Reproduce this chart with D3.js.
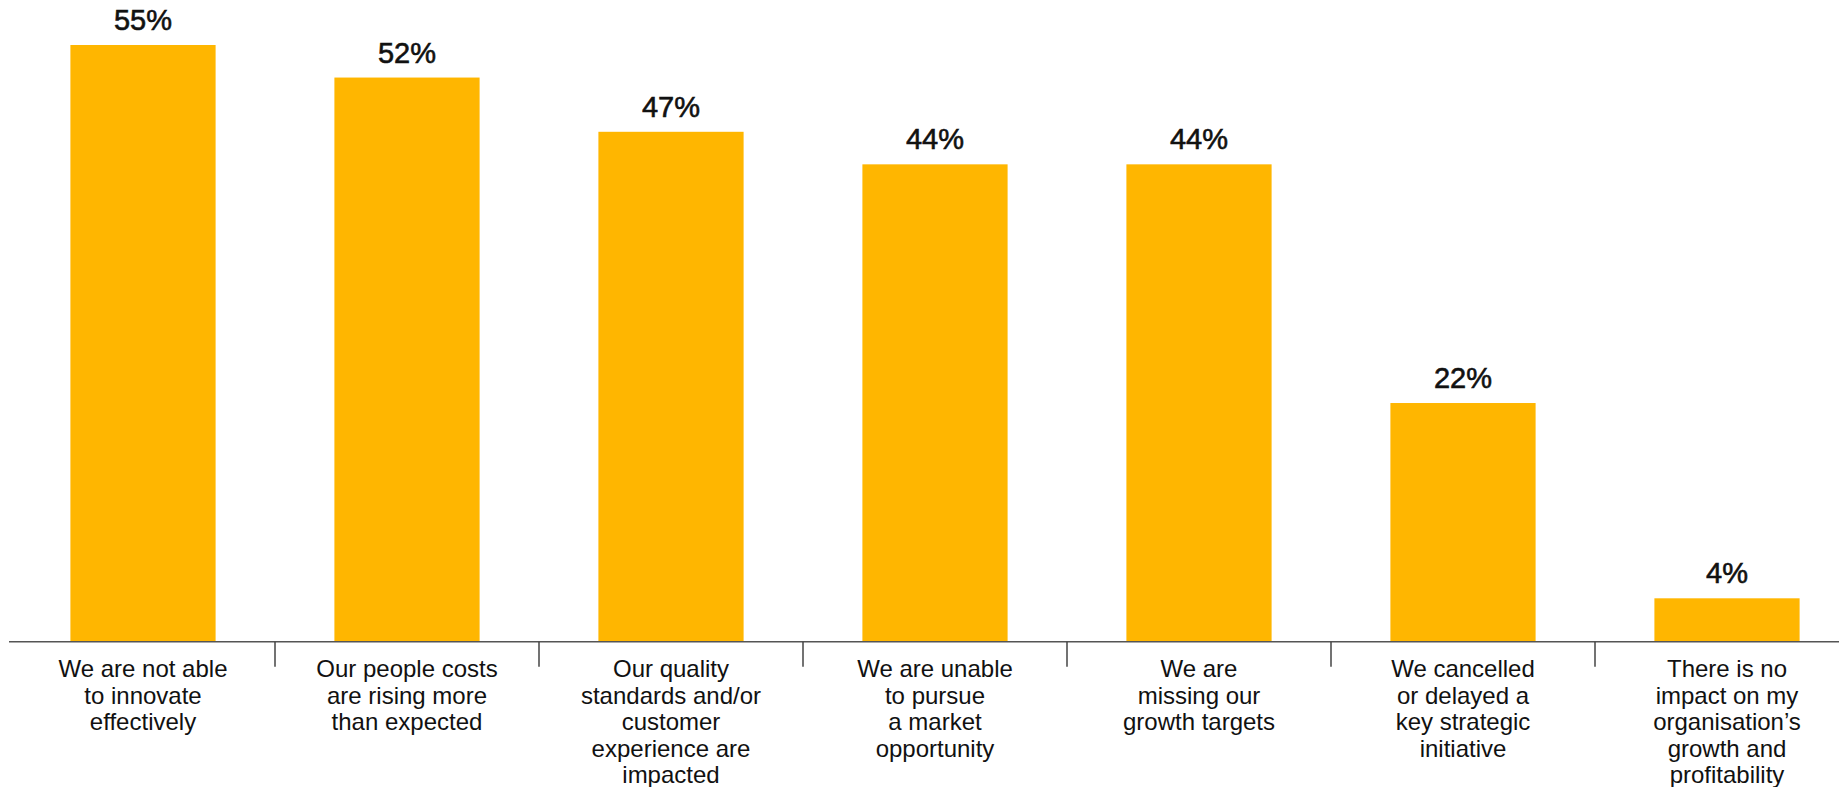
<!DOCTYPE html>
<html lang="en">
<head>
    <meta charset="UTF-8">
    <title>Impact on growth and profitability</title>
    <script src="https://d3js.org/d3.v7.min.js"></script>
    <style>
        html, body {
            margin: 0;
            padding: 0;
            background: #ffffff;
            overflow: hidden;
        }
        svg {
            display: block;
            font-family: "Helvetica Neue", Helvetica, "Liberation Sans", Arial, sans-serif;
        }
        .value-label {
            font-size: 29px;
            fill: #111;
            stroke: #111;
            stroke-width: 0.6px;
        }
        .cat-label {
            font-size: 24px;
            fill: #111;
        }
    </style>
</head>
<body>
    <svg id="chart" width="1839" height="787"></svg>

    <script>
        // Data
        const categories = [
            "We are not able to innovate effectively",
            "Our people costs are rising more than expected",
            "Our quality standards and/or customer experience are impacted",
            "We are unable to pursue a market opportunity",
            "We are missing our growth targets",
            "We cancelled or delayed a key strategic initiative",
            "There is no impact on my organisation’s growth and profitability"
        ];
        const values = [55, 52, 47, 44, 44, 22, 4];
        // line breaks used in the axis labels
        const labelLines = [
            ["We are not able", "to innovate", "effectively"],
            ["Our people costs", "are rising more", "than expected"],
            ["Our quality", "standards and/or", "customer", "experience are", "impacted"],
            ["We are unable", "to pursue", "a market", "opportunity"],
            ["We are", "missing our", "growth targets"],
            ["We cancelled", "or delayed a", "key strategic", "initiative"],
            ["There is no", "impact on my", "organisation’s", "growth and", "profitability"]
        ];

        const data = categories.map((c, i) => ({ cat: c, value: values[i], lines: labelLines[i] }));

        const width = 1839, height = 787;
        const baseY = 641.7;

        const svg = d3.select("#chart");

        const x = d3.scaleBand()
            .domain(categories)
            .range([11, 1859])
            .paddingInner(0.45)
            .paddingOuter(0.225);

        const y = d3.scaleLinear()
            .domain([0, 55])
            .range([baseY, 45]);

        // bars
        svg.selectAll(".bar")
            .data(data)
            .enter().append("rect")
            .attr("class", "bar")
            .attr("x", d => x(d.cat))
            .attr("y", d => y(d.value))
            .attr("width", x.bandwidth())
            .attr("height", d => y(0) - y(d.value))
            .attr("fill", "#FFB600");

        // value labels
        svg.selectAll(".value-label")
            .data(data)
            .enter().append("text")
            .attr("class", "value-label")
            .attr("x", d => x(d.cat) + x.bandwidth() / 2)
            .attr("y", d => y(d.value) - 15)
            .attr("text-anchor", "middle")
            .text(d => d.value + "%");

        // baseline
        svg.append("line")
            .attr("x1", 9)
            .attr("x2", width)
            .attr("y1", y(0))
            .attr("y2", y(0))
            .attr("stroke", "#555")
            .attr("stroke-width", 1.6);

        // separator ticks between categories
        const gap = x.step() * x.paddingInner() / 2;
        svg.selectAll(".sep")
            .data(data.slice(1))
            .enter().append("line")
            .attr("class", "sep")
            .attr("x1", d => x(d.cat) - gap)
            .attr("x2", d => x(d.cat) - gap)
            .attr("y1", y(0))
            .attr("y2", y(0) + 25)
            .attr("stroke", "#444")
            .attr("stroke-width", 1.5);

        // category labels
        const cat = svg.selectAll(".cat-label")
            .data(data)
            .enter().append("text")
            .attr("class", "cat-label")
            .attr("text-anchor", "middle")
            .attr("x", d => x(d.cat) + x.bandwidth() / 2)
            .attr("y", 677);

        cat.selectAll("tspan")
            .data(d => d.lines.map(l => ({ line: l, cx: x(d.cat) + x.bandwidth() / 2 })))
            .enter().append("tspan")
            .attr("x", d => d.cx)
            .attr("dy", (d, i) => i === 0 ? 0 : 26.5)
            .text(d => d.line);
    </script>
</body>
</html>
